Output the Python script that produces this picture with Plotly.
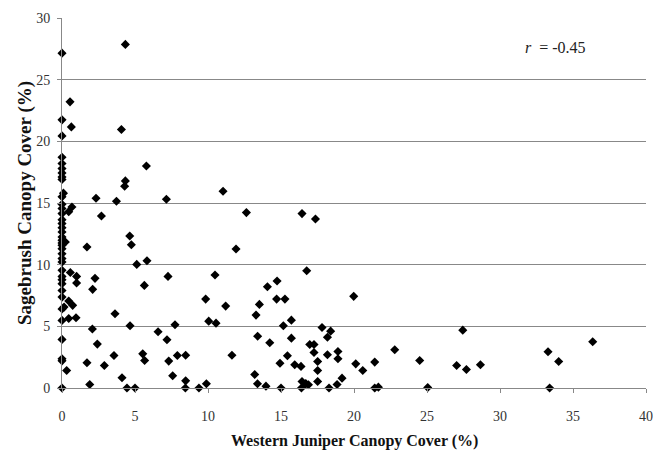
import plotly.graph_objects as go

juniper_cover = [
    0, 4.34, 0.55, 0.64, 0, 4.07, 0, 0, 0, 0, 0, 0, 0, 5.78, 4.34, 4.29, 0.1, 0,
    2.33, 3.73, 7.15, 0, 0.68, 0.46, 2.7,
    0, 0, 0, 0, 0, 0, 0, 0, 0, 0, 0, 0, 0, 0,
    0.23, 1.71, 4.64, 4.75, 5.12, 5.82, 0.57, 1.0, 1.0, 2.26, 2.1, 7.26, 5.64,
    0, 0, 0, 0, 0, 0, 0.14, 0, 0.46, 0.73, 0, 0.46, 0.96, 3.63, 4.66, 2.08, 0,
    2.42, 6.58, 7.19, 7.74, 0, 0, 0.32, 1.71, 2.9, 3.56, 5.53, 5.66, 7.31, 7.9,
    8.47, 7.58, 4.11, 8.47, 1.9, 9.89, 0, 4.45, 5.0, 8.45, 9.38,
    11.03, 12.63, 16.44, 17.36, 11.92, 10.48, 16.76, 14.73, 14.07, 9.84, 14.7,
    15.27, 19.98, 11.21, 13.52, 13.29, 10.05, 10.55, 15.71, 15.16, 17.81, 18.4,
    18.18, 13.4, 15.71, 14.23, 16.97, 17.26, 17.26, 18.9, 18.9, 18.18, 11.64,
    15.44, 22.79, 14.93, 15.94, 16.37, 17.51, 17.51, 20.12, 20.6, 21.42, 24.5,
    13.2, 13.39, 13.97, 15.0, 16.4, 16.44, 16.7, 16.88, 16.67, 17.51, 18.29,
    18.84, 19.18, 21.42, 21.67,
    27.45, 36.35, 33.29, 34.02, 27.03, 27.7, 28.66, 25.05, 33.4,
]
sagebrush_cover = [
    27.15, 27.86, 23.2, 21.17, 21.74, 20.96, 20.44, 18.71, 18.2, 17.79, 17.44, 17.1, 16.9, 18.0, 16.79, 16.36, 15.8, 15.5,
    15.38, 15.14, 15.3, 14.9, 14.68, 14.3, 13.95,
    14.55, 14.14, 13.65, 13.33, 13.0, 12.65, 12.24, 11.97, 11.75, 11.57, 11.3, 10.89, 10.49, 10.21,
    11.84, 11.43, 12.32, 11.62, 10.02, 10.32, 9.37, 9.05, 8.51, 8.89, 8.0, 9.05, 8.32,
    9.54, 9.05, 8.78, 8.46, 7.91, 7.37, 6.56, 6.4, 7.05, 6.7, 5.48, 5.64, 5.7, 6.02, 5.05, 4.78, 3.94,
    3.56, 4.56, 3.91, 5.13, 2.37, 2.2, 1.42, 2.05, 1.83, 2.64, 2.77, 2.23, 2.18, 2.64,
    2.66, 0.99, 0.83, 0.58, 0.28, 0.34, 0.0, 0.0, 0.0, 0.0, 0.0,
    15.95, 14.22, 14.14, 13.7, 11.27, 9.16, 9.51, 8.67, 8.21, 7.21, 7.21,
    7.21, 7.43, 6.64, 6.78, 5.91, 5.42, 5.26, 5.5, 5.05, 4.91, 4.61,
    4.12, 4.2, 4.04, 3.67, 3.53, 3.53, 2.88, 2.96, 2.37, 2.69, 2.66,
    2.61, 3.1, 2.01, 1.88, 1.75, 2.15, 1.42, 1.96, 1.42, 2.1, 2.23,
    1.1, 0.34, 0.15, 0.0, 0.0, 0.53, 0.36, 0.26, 0.3, 0.53, 0.0,
    0.28, 0.8, 0.0, 0.07,
    4.69, 3.75, 2.94, 2.15, 1.83, 1.5, 1.88, 0.04, 0.0,
]

x_ticks = [0, 5, 10, 15, 20, 25, 30, 35, 40]
y_ticks = [0, 5, 10, 15, 20, 25, 30]
x_title = "<b>Western Juniper Canopy Cover (%)</b>"
y_title = "<b>Sagebrush Canopy Cover (%)</b>"
r_label = "<i>r</i>  = -0.45"

serif = "Liberation Serif"

fig = go.Figure()
fig.add_trace(go.Scatter(
    x=juniper_cover, y=sagebrush_cover, mode="markers",
    marker=dict(symbol="diamond", size=7, color="black"),
    cliponaxis=False, showlegend=False,
))

fig.update_layout(
    width=653, height=451,
    margin=dict(l=62, r=7, t=18, b=63),
    paper_bgcolor="white", plot_bgcolor="white",
    font=dict(family=serif, color="#222"),
    xaxis=dict(
        range=[0, 40], tickvals=x_ticks, ticks="outside", ticklen=4,
        tickcolor="#888", showline=True, linecolor="#888", linewidth=1,
        showgrid=False, zeroline=False, tickfont=dict(size=14, family=serif, color="#333"),
        ticklabelstandoff=11, automargin=False,
    ),
    yaxis=dict(
        range=[0, 30], tickvals=y_ticks, ticks="outside", ticklen=4,
        tickcolor="#888", showline=True, linecolor="#888", linewidth=1,
        showgrid=True, gridcolor="#888", gridwidth=1, zeroline=False,
        tickfont=dict(size=14, family=serif, color="#333"),
        ticklabelstandoff=4, automargin=False,
    ),
    annotations=[
        dict(x=31.6, y=27.6, xref="x", yref="y", text=r_label, showarrow=False,
             xanchor="left", yanchor="middle", font=dict(size=16, family=serif, color="#222")),
        dict(x=0.5, y=0, xref="paper", yref="paper", yshift=-53, text=x_title, showarrow=False,
             xanchor="center", yanchor="middle", font=dict(size=16, family=serif, color="#111")),
        dict(x=0, y=0.5, xref="paper", yref="paper", xshift=-37, text=y_title, showarrow=False,
             textangle=-90, xanchor="center", yanchor="middle", font=dict(size=19, family=serif, color="#111")),
    ],
)

fig.write_html("out.html", post_script="document.body.style.margin='0';",
               config={"displayModeBar": False})
